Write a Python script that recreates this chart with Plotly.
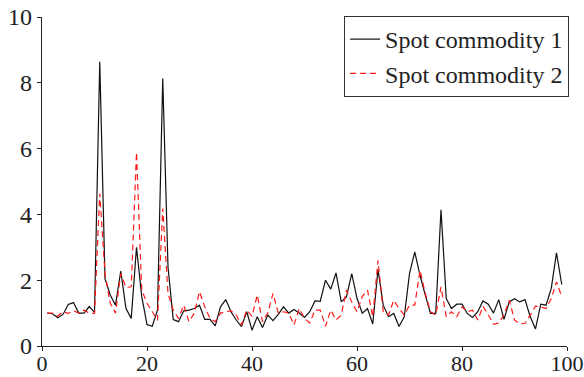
import plotly.graph_objects as go

x_vals = list(range(1, 100))

spot1 = [1.0, 0.98, 0.86, 0.96, 1.26, 1.32, 1.0, 1.0, 1.2, 1.02,
         8.64, 2.05, 1.55, 1.24, 2.28, 1.14, 0.84, 3.0, 1.5, 0.65,
         0.6, 1.09, 8.13, 2.4, 0.8, 0.74, 1.07, 1.09, 1.14, 1.24,
         0.81, 0.81, 0.61, 1.19, 1.41, 1.04, 0.79, 0.59, 1.04, 0.48,
         0.89, 0.56, 0.94, 0.77, 0.96, 1.19, 1.0, 1.11, 1.0, 0.87,
         1.04, 1.37, 1.36, 2.0, 1.73, 2.22, 1.34, 1.5, 2.2, 1.45,
         1.0, 1.14, 0.67, 2.32, 1.24, 0.89, 0.99, 0.59, 0.89, 2.2,
         2.86, 2.15, 1.55, 0.99, 0.99, 4.14, 1.44, 1.14, 1.27, 1.27,
         0.99, 0.87, 1.04, 1.37, 1.27, 1.0, 1.41, 0.81, 1.34, 1.44,
         1.34, 1.41, 0.89, 0.52, 1.27, 1.24, 1.75, 2.83, 1.87]

spot2 = [1.0, 1.0, 0.91, 1.04, 0.99, 1.07, 1.0, 1.09, 1.0, 0.99,
         4.63, 2.2, 1.3, 1.0, 2.2, 1.78, 1.8, 5.89, 1.7, 1.3,
         1.05, 0.78, 4.18, 1.6, 1.09, 0.84, 1.24, 0.74, 1.0, 1.65,
         1.19, 0.84, 0.74, 1.0, 1.04, 1.07, 0.94, 0.64, 1.09, 0.9,
         1.55, 0.74, 1.0, 1.6, 1.0, 1.04, 1.0, 0.64, 1.14, 0.84,
         0.7, 1.09, 1.09, 0.6, 1.09, 0.79, 0.94, 1.7, 1.34, 1.04,
         1.5, 1.7, 0.89, 2.6, 1.04, 0.94, 1.39, 1.14, 0.94, 1.24,
         1.24, 2.3, 1.6, 1.04, 0.94, 1.8, 0.89, 1.04, 0.89, 1.19,
         1.04, 1.09, 0.79, 1.21, 0.95, 0.66, 0.7, 0.94, 1.39, 0.79,
         0.67, 0.69, 0.94, 1.21, 1.19, 1.14, 1.44, 1.95, 1.5]

names = ["Spot commodity 1", "Spot commodity 2"]
x_ticks = [0, 20, 40, 60, 80, 100]
y_ticks = [0, 2, 4, 6, 8, 10]

fig = go.Figure()
fig.add_trace(go.Scatter(x=x_vals, y=spot1, mode="lines", name=names[0],
                         line=dict(color="#111111", width=1.2)))
fig.add_trace(go.Scatter(x=x_vals, y=spot2, mode="lines", name=names[1],
                         line=dict(color="#ff1a1a", width=1.2, dash="6px,4px")))

axis_common = dict(showline=True, linecolor="#222222", linewidth=1.2,
                   ticks="outside", ticklen=4, tickcolor="#222222", tickwidth=1.2,
                   showgrid=False, zeroline=False, mirror=False, automargin=False,
                   ticklabeloverflow="allow")

fig.update_layout(
    width=584, height=377,
    margin=dict(l=42, r=17, t=17, b=31),
    paper_bgcolor="white", plot_bgcolor="white",
    font=dict(family="Liberation Serif", size=24, color="#222222"),
    xaxis=dict(range=[0, 100], tickvals=x_ticks, ticklabelstandoff=-7,
               tickfont=dict(family="Liberation Serif", size=22, color="#222222"),
               **axis_common),
    yaxis=dict(range=[0, 10], tickvals=y_ticks,
               tickfont=dict(family="Liberation Serif", size=24, color="#222222"),
               **axis_common),
    legend=dict(x=1.004, y=1.003, xanchor="right", yanchor="top",
                bordercolor="#333333", borderwidth=1, bgcolor="white",
                font=dict(family="Liberation Serif", size=24, color="#222222"),
                tracegroupgap=0, itemwidth=30),
    showlegend=True,
)

fig.write_html("out.html", config={"displayModeBar": False},
               post_script="document.body.style.margin='0';document.body.style.padding='0';")
